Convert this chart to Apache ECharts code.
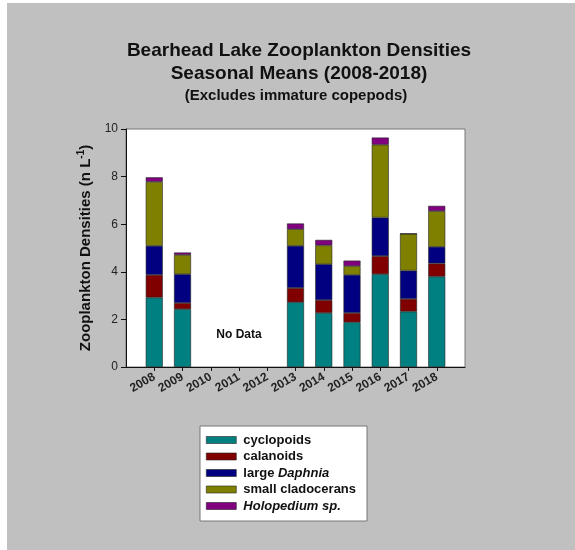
<!DOCTYPE html>
<html><head><meta charset="utf-8">
<script src="https://cdn.jsdelivr.net/npm/echarts@6/dist/echarts.min.js"></script>
<style>html,body{margin:0;padding:0;background:#c0c0c0;}#c{width:575px;height:550px;}</style>
</head><body><div id="c"></div>
<script>
const years = ['2008', '2009', '2010', '2011', '2012', '2013', '2014', '2015', '2016', '2017', '2018'];
const yTicks = [0, 2, 4, 6, 8, 10];
// null = no data
const cyclopoids        = [2.92, 2.43, null, null, null, 2.72, 2.27, 1.88, 3.90, 2.33, 3.80];
const calanoids         = [0.95, 0.26, null, null, null, 0.60, 0.54, 0.39, 0.76, 0.53, 0.55];
const largeDaphnia      = [1.22, 1.21, null, null, null, 1.77, 1.51, 1.60, 1.62, 1.19, 0.70];
const smallCladocerans  = [2.69, 0.81, null, null, null, 0.70, 0.79, 0.37, 3.06, 1.55, 1.50];
const holopedium        = [0.19, 0.10, null, null, null, 0.24, 0.23, 0.23, 0.30, 0.00, 0.22];
const seriesNames = ['cyclopoids', 'calanoids', 'large Daphnia', 'small cladocerans', 'Holopedium sp.'];
const seriesColors = ['#008080', '#800000', '#000080', '#808000', '#800080'];
const noDataAt = ['2011', 1.35];

const font = 'Liberation Sans, Arial, sans-serif';
const allVals = [cyclopoids, calanoids, largeDaphnia, smallCladocerans, holopedium];
// padded category axis: one empty slot on each side so the bars sit on ticks
const cats = [' '].concat(years, ['  ']);
const pad = arr => ['-'].concat(arr.map(v => (v === null ? '-' : v)), ['-']);

const series = allVals.map((arr, k) => {
  const s = {
    name: seriesNames[k],
    type: 'bar',
    stack: 'total',
    barWidth: 17,
    data: pad(arr),
    itemStyle: { color: seriesColors[k], borderColor: '#222', borderWidth: 0.6 },
    emphasis: { disabled: true }
  };
  if (k === 0) {
    s.markPoint = {
      symbol: 'circle', symbolSize: 0,
      data: [{ coord: noDataAt, value: 'No Data' }],
      label: { show: true, position: 'inside', formatter: 'No Data', color: '#111',
               fontFamily: font, fontWeight: 'bold', fontSize: 12 }
    };
  }
  return s;
});

const chart = echarts.init(document.getElementById('c'), null, { renderer: 'canvas' });
chart.setOption({
  backgroundColor: '#c0c0c0',
  animation: false,
  graphic: [
    { type: 'rect', shape: { x: 0, y: 0, width: 7, height: 550 }, style: { fill: '#ffffff' } },
    { type: 'rect', shape: { x: 0, y: 0, width: 575, height: 3 }, style: { fill: '#ffffff' } },
    { type: 'text', x: 299, y: 41, style: { text: 'Bearhead Lake Zooplankton Densities', font: 'bold 19px ' + font, fill: '#111', align: 'center' } },
    { type: 'text', x: 299, y: 64, style: { text: 'Seasonal Means (2008-2018)', font: 'bold 19px ' + font, fill: '#111', align: 'center' } },
    { type: 'text', x: 296, y: 88, style: { text: '(Excludes immature copepods)', font: 'bold 15px ' + font, fill: '#111', align: 'center' } }
  ],
  grid: { left: 126, right: 110, top: 129, bottom: 183, show: true, backgroundColor: '#ffffff', borderColor: '#777', borderWidth: 1 },
  legend: {
    orient: 'vertical', left: 200, top: 426,
    backgroundColor: '#ffffff', borderColor: '#777', borderWidth: 1,
    padding: [6, 11, 7, 6],
    itemWidth: 30, itemHeight: 7, itemGap: 0.5,
    icon: 'rect',
    itemStyle: { borderColor: '#222', borderWidth: 0.6 },
    data: seriesNames,
    formatter: function (n) {
      if (n === 'large Daphnia') return 'large {i|Daphnia}';
      if (n === 'Holopedium sp.') return '{i|Holopedium sp.}';
      return n;
    },
    textStyle: {
      fontFamily: font, fontWeight: 'bold', fontSize: 13, color: '#111', lineHeight: 16,
      padding: [0, 0, 0, 2],
      rich: { i: { fontFamily: font, fontWeight: 'bold', fontStyle: 'italic', fontSize: 13, color: '#111', lineHeight: 16 } }
    },
    selectedMode: false
  },
  xAxis: {
    type: 'category', data: cats, boundaryGap: false,
    splitLine: { show: false },
    axisLine: { show: true, onZero: false, lineStyle: { color: '#111', width: 1 } },
    axisTick: { show: true, length: 4, alignWithLabel: true,
                interval: (i) => i > 0 && i < cats.length - 1, lineStyle: { color: '#111' } },
    axisLabel: {
      interval: 0, rotate: 30, margin: 9,
      fontFamily: font, fontWeight: 'bold', fontSize: 12, color: '#222'
    }
  },
  yAxis: {
    type: 'value', min: 0, max: 10, interval: 2,
    name: 'Zooplankton Densities (n L{s|-1})',
    nameLocation: 'middle', nameGap: 31, nameRotate: 90,
    nameTextStyle: {
      fontFamily: font, fontWeight: 'bold', fontSize: 15, color: '#111',
      rich: { s: { fontFamily: font, fontWeight: 'bold', fontSize: 10, color: '#111', verticalAlign: 'bottom', padding: [0, 0, 9, 0] } }
    },
    splitLine: { show: false },
    axisLine: { show: true, lineStyle: { color: '#111', width: 1 } },
    axisTick: { show: true, length: 5, inside: false, lineStyle: { color: '#111' } },
    axisLabel: { fontFamily: font, fontSize: 12, color: '#222', margin: 8, customValues: yTicks }
  },
  series: series
});
</script>
</body></html>
